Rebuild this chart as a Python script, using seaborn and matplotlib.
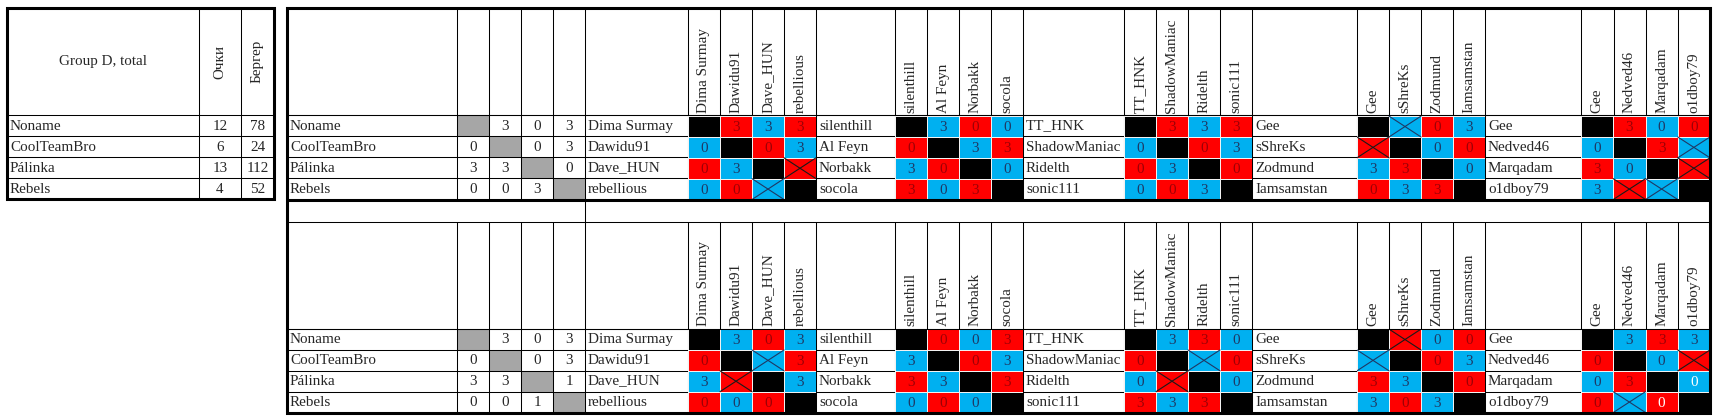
import numpy as np
import matplotlib.pyplot as plt
from matplotlib.colors import ListedColormap
from matplotlib.patches import Rectangle
import seaborn as sns

sns.set_theme(style="white")
plt.rcParams['font.family'] = ['Liberation Serif', 'DejaVu Serif']
FS = 10.9

# ---- data ----
teams = ["Noname", "CoolTeamBro", "Pálinka", "Rebels"]
points = [12, 6, 13, 4]
berger = [78, 24, 112, 52]

boards = [
    ["Dima Surmay", "Dawidu91", "Dave_HUN", "rebellious"],
    ["silenthill", "Al Feyn", "Norbakk", "socola"],
    ["TT_HNK", "ShadowManiac", "Ridelth", "sonic111"],
    ["Gee", "sShreKs", "Zodmund", "Iamsamstan"],
    ["Gee", "Nedved46", "Marqadam", "o1dboy79"],
]

# team match scores (None = diagonal)
match_r1 = [[None, 3, 0, 3], [0, None, 0, 3], [3, 3, None, 0], [0, 0, 3, None]]
match_r2 = [[None, 3, 0, 3], [0, None, 0, 3], [3, 3, None, 1], [0, 0, 1, None]]

# board results: K = self, R/B = red/blue cell, number or X
games_r1 = [
    [["K", "R3", "B3", "R3"], ["B0", "K", "R0", "B3"], ["R0", "B3", "K", "RX"], ["B0", "R0", "BX", "K"]],
    [["K", "B3", "R0", "B0"], ["R0", "K", "B3", "R3"], ["B3", "R0", "K", "B0"], ["R3", "B0", "R3", "K"]],
    [["K", "R3", "B3", "R3"], ["B0", "K", "R0", "B3"], ["R0", "B3", "K", "R0"], ["B0", "R0", "B3", "K"]],
    [["K", "BX", "R0", "B3"], ["RX", "K", "B0", "R0"], ["B3", "R3", "K", "B0"], ["R0", "B3", "R3", "K"]],
    [["K", "R3", "B0", "R0"], ["B0", "K", "R3", "BX"], ["R3", "B0", "K", "RX"], ["B3", "RX", "BX", "K"]],
]
games_r2 = [
    [["K", "B3", "R0", "B3"], ["R0", "K", "BX", "R3"], ["B3", "RX", "K", "B3"], ["R0", "B0", "R0", "K"]],
    [["K", "R0", "B0", "R3"], ["B3", "K", "R0", "B3"], ["R3", "B3", "K", "R3"], ["B0", "R0", "B0", "K"]],
    [["K", "B3", "R3", "B0"], ["R0", "K", "BX", "R0"], ["B0", "RX", "K", "B0"], ["R3", "B3", "R3", "K"]],
    [["K", "RX", "B0", "R0"], ["BX", "K", "R0", "B3"], ["R3", "B3", "K", "R0"], ["B3", "R0", "B3", "K"]],
    [["K", "B3", "R3", "B3"], ["R0", "K", "B0", "RX"], ["B0", "R3", "K", "B0"], ["R0", "BX", "R0", "K"]],
]
white_text_r2 = [(4, 2, 3), (4, 3, 2)]

# ---- layout (pixels) ----
W, H = 1716, 419
left_x = [7, 199, 241, 274]
right_x = [287, 457, 489, 521, 553, 585,
           688, 720, 752, 784, 816,
           895, 927, 959, 991, 1023,
           1124, 1156, 1188, 1220, 1252,
           1357, 1389, 1421, 1453, 1485,
           1581, 1614, 1646, 1678, 1710]
name_cols = [585, 816, 1023, 1252, 1485]
board_x = [(688, 816), (895, 1023), (1124, 1252), (1357, 1485), (1581, 1710)]
blocks = [(8, [115.5, 136.5, 157.5, 178.5, 199.5]),
          (222, [328.5, 349.5, 370.5, 391.5, 412.5])]

RED, BLUE, GREY = '#FF0000', '#00B0F0', '#A6A6A6'
RED_TXT, BLUE_TXT = '#9C0006', '#1F3864'
thin, thick = 0.75, 2.2

fig = plt.figure(figsize=(W / 100, H / 100), dpi=100)
ax = fig.add_axes([0, 0, 1, 1])
ax.set_xlim(0, W)
ax.set_ylim(H, 0)
ax.axis('off')

# ---- left summary table ----
lrows = blocks[0][1]
for y in lrows[:-1]:
    ax.plot([left_x[0], left_x[-1]], [y, y], color='black', lw=thin)
for x in left_x[1:-1]:
    ax.plot([x, x], [8, lrows[-1]], color='black', lw=thin)
ax.add_patch(Rectangle((left_x[0], 8), left_x[-1] - left_x[0], lrows[-1] - 8,
                       fill=False, lw=thick, ec='black'))
ax.text((left_x[0] + left_x[1]) / 2, (8 + lrows[0]) / 2, "Group D, total",
        ha='center', va='center', fontsize=FS)
ax.text((left_x[1] + left_x[2]) / 2, (8 + lrows[0]) / 2, "Очки",
        ha='center', va='center', rotation=90, fontsize=FS)
ax.text((left_x[2] + left_x[3]) / 2, (8 + lrows[0]) / 2, "Бергер",
        ha='center', va='center', rotation=90, fontsize=FS)
for i, t in enumerate(teams):
    yc = (lrows[i] + lrows[i + 1]) / 2
    ax.text(left_x[0] + 3, yc, t, ha='left', va='center', fontsize=FS)
    ax.text((left_x[1] + left_x[2]) / 2, yc, str(points[i]), ha='center', va='center', fontsize=FS)
    ax.text((left_x[2] + left_x[3]) / 2, yc, str(berger[i]), ha='center', va='center', fontsize=FS)

# ---- main table ----
cmap = ListedColormap(['black', RED, BLUE])
for (top, rows), match, games in zip(blocks, [match_r1, match_r2], [games_r1, games_r2]):
    hb = rows[0]
    # grey diagonal + team scores
    for i in range(4):
        yc = (rows[i] + rows[i + 1]) / 2
        ax.text(right_x[0] + 3, yc, teams[i], ha='left', va='center', fontsize=FS)
        for j in range(4):
            x0, x1 = right_x[1 + j], right_x[2 + j]
            if match[i][j] is None:
                ax.add_patch(Rectangle((x0, rows[i]), x1 - x0, rows[i + 1] - rows[i],
                                       color=GREY, lw=0))
            else:
                ax.text((x0 + x1) / 2, yc, str(match[i][j]), ha='center', va='center', fontsize=FS)
    for y in rows[:-1]:
        ax.plot([right_x[0], right_x[-1]], [y, y], color='black', lw=thin)
    for x in right_x[1:-1]:
        ax.plot([x, x], [top, rows[-1]], color='black', lw=thin)

    for k, names in enumerate(boards):
        nx0 = name_cols[k]
        bx0, bx1 = board_x[k]
        cw = (bx1 - bx0) / 4
        for i, nm in enumerate(names):
            ax.text(nx0 + 3, (rows[i] + rows[i + 1]) / 2, nm, ha='left', va='center', fontsize=FS)
            ax.text(bx0 + cw * (i + 0.5), hb - 3, nm, ha='center', va='bottom',
                    rotation=90, fontsize=FS)

        g = games[k]
        codes = np.array([[{'K': 0, 'R': 1, 'B': 2}[c[0]] for c in row] for row in g])
        bax = fig.add_axes([bx0 / W, 1 - rows[-1] / H, (bx1 - bx0) / W, (rows[-1] - hb - 0.6) / H])
        sns.heatmap(codes, cmap=cmap, vmin=-0.5, vmax=2.5, cbar=False, ax=bax,
                    linewidths=0.4, linecolor='#f2f2f2',
                    xticklabels=False, yticklabels=False)
        for i in range(4):
            for j in range(4):
                c = g[i][j]
                if c == 'K':
                    continue
                tc = RED_TXT if c[0] == 'R' else BLUE_TXT
                if c[1] == 'X':
                    lc = '#1a1a1a' if c[0] == 'R' else BLUE_TXT
                    bax.plot([j, j + 1], [i, i + 1], color=lc, lw=0.8)
                    bax.plot([j, j + 1], [i + 1, i], color=lc, lw=0.8)
                else:
                    if games is games_r2 and (k, i, j) in white_text_r2:
                        tc = 'white'
                    bax.text(j + 0.5, i + 0.55, c[1], ha='center', va='center',
                             color=tc, fontsize=FS)

# blank row between the two blocks
ax.plot([585, 585], [200, 222], color='black', lw=thin)
ax.plot([right_x[0], right_x[-1]], [222, 222], color='black', lw=thin)

# thick borders on top of everything
ov = fig.add_axes([0, 0, 1, 1])
ov.set_xlim(0, W)
ov.set_ylim(H, 0)
ov.axis('off')
ov.patch.set_alpha(0)
ov.add_patch(Rectangle((right_x[0], 8), right_x[-1] - right_x[0], 412.5 - 8,
                       fill=False, lw=thick, ec='black'))
ov.plot([right_x[0], right_x[-1]], [200, 200], color='black', lw=thick)
for top, rows in blocks:
    ov.plot([right_x[0], right_x[-1]], [rows[0], rows[0]], color='black', lw=thin)

fig.savefig('out.png', dpi=100)
